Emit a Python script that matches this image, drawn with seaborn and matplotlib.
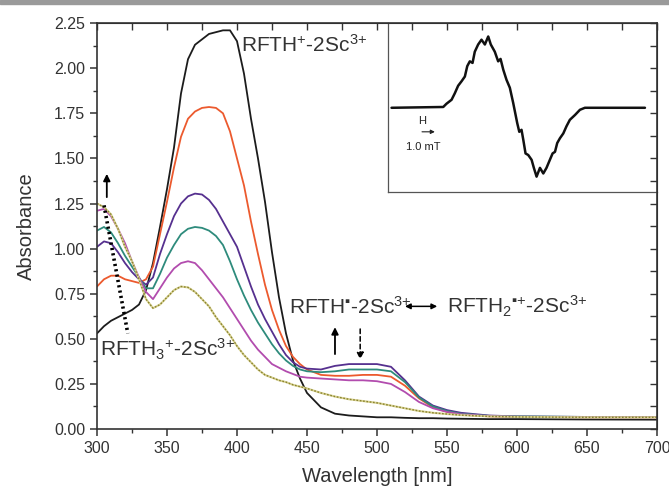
import numpy as np
import pandas as pd
import matplotlib
matplotlib.use('Agg')
import matplotlib.pyplot as plt
from matplotlib.patches import Rectangle
import seaborn as sns

# UV-vis spectra (absorbance)
wavelength = [300, 305, 310, 315, 320, 325, 330, 335, 340, 345, 350, 355, 360, 365, 370,
              375, 380, 385, 390, 395, 400, 405, 410, 415, 420, 425, 430, 435, 440, 445,
              450, 460, 470, 480, 490, 500, 510, 520, 530, 540, 550, 560, 580, 600, 650, 700]

abs_black = [0.53, 0.57, 0.60, 0.62, 0.64, 0.66, 0.69, 0.77, 0.92, 1.12, 1.33, 1.56, 1.86, 2.05, 2.13,
             2.16, 2.19, 2.20, 2.21, 2.21, 2.15, 1.97, 1.72, 1.50, 1.26, 0.98, 0.73, 0.53, 0.38, 0.28,
             0.20, 0.12, 0.085, 0.075, 0.07, 0.065, 0.065, 0.062, 0.06, 0.06, 0.058, 0.057, 0.055, 0.055, 0.053, 0.052]
abs_red = [0.79, 0.83, 0.85, 0.85, 0.83, 0.82, 0.81, 0.83, 0.90, 1.08, 1.26, 1.45, 1.62, 1.72, 1.76,
           1.78, 1.785, 1.78, 1.75, 1.65, 1.50, 1.35, 1.15, 0.97, 0.80, 0.66, 0.55, 0.46, 0.40, 0.36,
           0.33, 0.30, 0.295, 0.295, 0.30, 0.30, 0.29, 0.24, 0.17, 0.12, 0.095, 0.08, 0.07, 0.067, 0.065, 0.065]
abs_purple = [1.01, 1.04, 1.03, 0.98, 0.92, 0.87, 0.83, 0.80, 0.84, 0.97, 1.08, 1.18, 1.25, 1.29, 1.305,
              1.30, 1.27, 1.22, 1.15, 1.08, 1.01, 0.90, 0.79, 0.69, 0.61, 0.54, 0.47, 0.41, 0.37, 0.345,
              0.335, 0.33, 0.35, 0.36, 0.36, 0.36, 0.345, 0.27, 0.18, 0.13, 0.105, 0.09, 0.075, 0.07, 0.067, 0.067]
abs_green = [1.10, 1.12, 1.09, 1.03, 0.96, 0.90, 0.84, 0.78, 0.78, 0.86, 0.95, 1.02, 1.08, 1.11, 1.12,
             1.115, 1.10, 1.07, 1.02, 0.93, 0.83, 0.74, 0.66, 0.59, 0.53, 0.47, 0.42, 0.38, 0.35, 0.33,
             0.32, 0.315, 0.32, 0.33, 0.33, 0.33, 0.32, 0.26, 0.175, 0.125, 0.10, 0.085, 0.073, 0.07, 0.067, 0.067]
abs_magenta = [1.21, 1.22, 1.18, 1.11, 1.03, 0.93, 0.84, 0.76, 0.72, 0.78, 0.84, 0.89, 0.92, 0.93, 0.92,
               0.88, 0.83, 0.78, 0.73, 0.67, 0.61, 0.55, 0.49, 0.44, 0.40, 0.36, 0.34, 0.32, 0.305, 0.29,
               0.285, 0.28, 0.275, 0.27, 0.27, 0.265, 0.25, 0.205, 0.15, 0.115, 0.095, 0.082, 0.072, 0.068, 0.066, 0.066]
abs_olive = [1.25, 1.23, 1.19, 1.11, 1.01, 0.93, 0.83, 0.72, 0.67, 0.69, 0.73, 0.77, 0.79, 0.785, 0.76,
             0.72, 0.68, 0.62, 0.57, 0.52, 0.46, 0.41, 0.37, 0.33, 0.30, 0.285, 0.27, 0.26, 0.245, 0.235,
             0.225, 0.20, 0.18, 0.165, 0.155, 0.145, 0.13, 0.115, 0.10, 0.09, 0.083, 0.077, 0.07, 0.067, 0.065, 0.065]

series_names = ['black', 'red', 'purple', 'green', 'magenta']
series_values = [abs_black, abs_red, abs_purple, abs_green, abs_magenta]
series_colors = ['#1c1c1c', '#ec5a2e', '#56308f', '#2e8b7c', '#b24cae']

# EPR inset (field offset in mT, signal in arbitrary units)
epr_field = [-7.58, -4.35, -4.15, -3.83, -3.63, -3.42, -3.21, -3.00, -2.85, -2.69, -2.52, -2.38,
             -2.17, -1.96, -1.75, -1.54, -1.38, -1.13, -0.92, -0.77, -0.60, -0.40, -0.19, 0.02,
             0.13, 0.27, 0.40, 0.54, 0.65, 0.79, 0.96, 1.17, 1.31, 1.48, 1.69, 1.90, 2.10, 2.31,
             2.48, 2.63, 2.77, 2.94, 3.15, 3.35, 3.56, 3.88, 4.19, 4.50, 8.25]
epr_signal = [0.00, 0.01, 0.05, 0.10, 0.18, 0.275, 0.33, 0.39, 0.52, 0.58, 0.56, 0.70,
              0.79, 0.85, 0.79, 0.89, 0.79, 0.70, 0.58, 0.61, 0.475, 0.35, 0.25, 0.06,
              -0.05, -0.19, -0.30, -0.275, -0.40, -0.57, -0.59, -0.65, -0.75, -0.86, -0.75, -0.82, -0.75, -0.65,
              -0.57, -0.55, -0.44, -0.38, -0.32, -0.23, -0.15, -0.09, -0.025, 0.00, 0.00]

sns.set_style('ticks')
plt.rcParams['font.family'] = ['Liberation Sans', 'DejaVu Sans']
plt.rcParams['mathtext.fontset'] = 'custom'
plt.rcParams['mathtext.rm'] = 'Liberation Sans'
plt.rcParams['mathtext.it'] = 'Liberation Sans:italic'
plt.rcParams['mathtext.bf'] = 'Liberation Sans:bold'

fig = plt.figure(figsize=(6.69, 4.92), dpi=100)
fig.patches.append(Rectangle((0, 1 - 4 / 492), 1, 4 / 492, transform=fig.transFigure,
                             color='#9a9a9a', zorder=0))

# inset goes underneath so the main frame ticks stay visible over it
ins = fig.add_axes([0.580, 0.610, 0.402, 0.3435])
ins.set_zorder(0)
ax = fig.add_axes([0.145, 0.128, 0.837, 0.825])
ax.set_zorder(1)
ax.patch.set_visible(False)

rows = []
for name, vals in zip(series_names, series_values):
    for w, a in zip(wavelength, vals):
        rows.append({'wavelength': w, 'absorbance': a, 'sample': name})
df = pd.DataFrame(rows)

sns.lineplot(data=df, x='wavelength', y='absorbance', hue='sample', hue_order=series_names,
             palette=series_colors, estimator=None, legend=False, lw=1.3, ax=ax)
# dotted olive trace
sns.lineplot(x=wavelength, y=abs_olive, color='#d9d394', lw=1.5, estimator=None, ax=ax)
sns.lineplot(x=wavelength, y=abs_olive, color='#8a8430', lw=1.0, estimator=None,
             linestyle=(0, (1.2, 1.2)), ax=ax)

# dotted guide line
ax.plot([305, 322], [1.24, 0.53], color='k', lw=2.6, linestyle=(0, (0.6, 0.9)))

ax.set_xlim(300, 700)
ax.set_ylim(0, 2.25)
ax.set_xticks(np.arange(300, 701, 50))
ax.set_xticks(np.arange(300, 701, 25), minor=True)
ax.set_yticks(np.arange(0, 2.26, 0.25))
ax.set_yticks(np.arange(0, 2.26, 0.125), minor=True)
ax.set_yticklabels([f'{v:.2f}' for v in np.arange(0, 2.26, 0.25)])
ax.tick_params(which='major', direction='out', length=5, width=1.1, labelsize=11.5,
               colors='#333333', labelcolor='#333333')
ax.tick_params(which='minor', direction='out', length=3, width=1.0, colors='#333333')
for s in ax.spines.values():
    s.set_color('#333333')
    s.set_linewidth(1.2)

top = ax.secondary_xaxis('top')
top.set_xticks(np.arange(300, 701, 25))
top.tick_params(direction='in', length=5, width=1.0, labeltop=False, colors='#333333')
right = ax.secondary_yaxis('right')
right.set_yticks(np.arange(0, 2.26, 0.125))
right.tick_params(direction='in', length=5, width=1.0, labelright=False, colors='#333333')

ax.set_xlabel('Wavelength [nm]', fontsize=14.5, color='#333333', labelpad=8)
ax.set_ylabel('Absorbance', fontsize=14.5, color='#333333', labelpad=13)

# annotations
ann = dict(fontsize=15, color='#333333', va='center', ha='left')
ax.text(403, 2.13, r'RFTH$^{+}$-2Sc$^{3{+}}$', **ann)
ax.text(302, 0.44, r'RFTH$_{3}$$^{+}$-2Sc$^{3{+}}$', **ann)
ax.text(437, 0.68, r'RFTH$^{▪}$-2Sc$^{3{+}}$', **ann)
ax.text(550, 0.68, r'RFTH$_{2}$$^{▪{+}}$-2Sc$^{3{+}}$', **ann)

ax.annotate('', xy=(307, 1.43), xytext=(307, 1.27),
            arrowprops=dict(arrowstyle='-|>', color='k', lw=1.3, mutation_scale=10))
ax.annotate('', xy=(470, 0.58), xytext=(470, 0.40),
            arrowprops=dict(arrowstyle='-|>', color='k', lw=1.3, mutation_scale=10))
ax.annotate('', xy=(488, 0.37), xytext=(488, 0.57),
            arrowprops=dict(arrowstyle='-|>', color='k', lw=1.1, linestyle=(0, (3, 2)),
                            mutation_scale=10))
ax.annotate('', xy=(545, 0.68), xytext=(518, 0.68),
            arrowprops=dict(arrowstyle='<|-|>', color='k', lw=1.1, mutation_scale=8))

# EPR inset
sns.lineplot(x=epr_field, y=epr_signal, color='#111111', lw=1.8, sort=False, estimator=None, ax=ins)
ins.set_xlim(-7.8, 9.0)
ins.set_ylim(-1.05, 1.06)
ins.set_xticks([])
ins.set_yticks([])
ins.set_xlabel('')
ins.set_ylabel('')
for side in ['top', 'right']:
    ins.spines[side].set_visible(False)
for side in ['left', 'bottom']:
    ins.spines[side].set_color('#555555')
    ins.spines[side].set_linewidth(0.9)
ins.text(-5.7, -0.16, 'H', fontsize=8, ha='center', va='center', color='#222222')
ins.annotate('', xy=(-4.7, -0.30), xytext=(-5.85, -0.30),
             arrowprops=dict(arrowstyle='-|>', color='#222222', lw=0.8, mutation_scale=6))
ins.text(-5.6, -0.49, '1.0 mT', fontsize=8, ha='center', va='center', color='#222222')

fig.savefig('out.png', dpi=100)
